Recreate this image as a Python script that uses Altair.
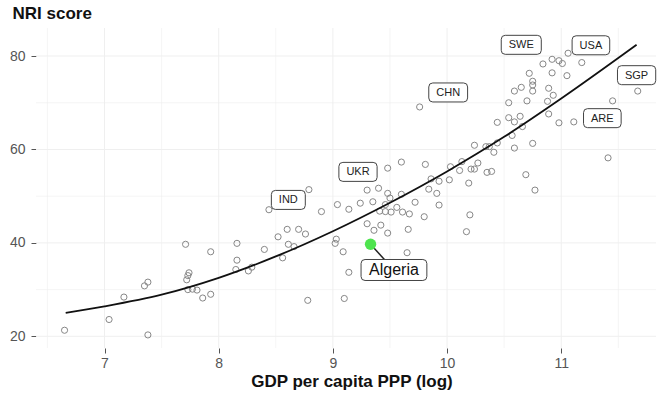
import altair as alt
import pandas as pd

# Log GDP per capita (PPP) and NRI score for each country
gdp_log = [
    6.65, 7.04, 7.17, 7.35, 7.38, 7.38, 7.71, 7.74, 7.73, 7.72,
    7.73, 7.77, 7.81, 7.86, 7.93, 7.93, 8.16, 8.16, 8.15, 8.26,
    8.29, 8.40, 8.52, 8.60, 8.70, 8.76, 8.61, 8.66, 8.56, 8.78,
    8.44, 8.90, 8.79, 9.04, 9.14, 9.24, 9.35, 9.30, 9.40, 9.48,
    9.60, 9.81, 9.48, 9.50, 9.46, 9.41, 9.46, 9.51, 9.56, 9.61,
    9.60, 9.67, 9.72, 9.80, 9.30, 9.36, 9.42, 9.48, 9.66, 9.03,
    9.02, 9.09, 9.65, 9.14, 9.10, 9.91, 9.93, 10.20, 10.17, 9.86,
    9.84, 9.93, 10.02, 10.03, 10.13, 10.11, 10.21, 10.24, 10.19, 10.27,
    9.76, 10.24, 10.34, 10.37, 10.35, 10.39, 10.41, 10.44, 10.44, 10.54,
    10.64, 10.59, 10.54, 10.70, 10.88, 10.66, 10.59, 10.75, 10.57, 10.69,
    10.77, 10.89, 10.98, 11.11, 11.45, 11.67, 11.41, 11.06, 10.84, 10.92,
    10.98, 11.01, 11.18, 10.72, 10.92, 11.05, 10.75, 10.75, 10.75, 10.59,
    10.65, 10.89, 10.93,
]
nri_score = [
    21.3, 23.6, 28.4, 30.8, 31.6, 20.3, 39.7, 33.6, 33.0, 32.1,
    30.0, 30.1, 29.9, 28.2, 29.0, 38.1, 39.9, 36.3, 34.3, 34.0,
    34.8, 38.6, 41.3, 42.9, 42.9, 41.9, 39.7, 39.2, 36.8, 27.7,
    47.1, 46.7, 51.4, 48.2, 47.2, 48.5, 48.8, 51.3, 51.7, 56.0,
    57.3, 56.8, 50.6, 49.6, 48.2, 46.8, 46.7, 46.6, 47.6, 46.6,
    50.4, 46.2, 48.7, 45.6, 44.1, 42.7, 43.8, 42.1, 42.9, 40.8,
    39.9, 38.1, 37.9, 33.7, 28.1, 50.6, 48.1, 46.0, 42.4, 53.7,
    51.5, 53.2, 53.5, 56.3, 57.4, 55.5, 55.8, 55.8, 52.8, 57.1,
    69.1, 60.9, 60.6, 60.6, 55.1, 55.3, 59.4, 61.4, 65.8, 66.8,
    67.1, 65.9, 70.0, 70.4, 70.3, 64.9, 60.3, 61.3, 63.0, 54.6,
    51.3, 67.6, 65.7, 65.9, 70.4, 72.5, 58.2, 80.6, 78.3, 79.3,
    79.0, 78.4, 78.6, 76.3, 76.4, 75.8, 74.6, 73.8, 72.5, 72.5,
    73.3, 73.1, 71.6,
]

# Smoothed trend of NRI score against log GDP
curve_x = [6.66, 7.0, 7.5, 8.0, 8.5, 9.0, 9.5, 10.0, 10.5, 11.0, 11.66]
curve_y = [25.0, 26.4, 28.9, 32.5, 37.1, 42.5, 48.6, 55.3, 62.7, 70.9, 82.4]

# Country code labels
code_text = ["IND", "UKR", "CHN", "SWE", "USA", "SGP", "ARE"]
code_x = [8.61, 9.22, 10.01, 10.65, 11.26, 11.66, 11.36]
code_y = [49.2, 55.2, 72.2, 82.4, 82.3, 75.9, 66.7]

# Highlighted country
focus_name = "Algeria"
focus_x = 9.33
focus_y = 39.7
focus_label_x = 9.535
focus_label_y = 34.2

# Axis ticks and grid
x_major = [7, 8, 9, 10, 11]
x_minor = [6.5, 7.5, 8.5, 9.5, 10.5, 11.5]
y_major = [20, 40, 60, 80]
y_minor = [30, 50, 70]

X_DOMAIN = [6.4, 11.83]
Y_DOMAIN = [17.5, 86]
FONT = "Liberation Sans"

# Approximate Arial advance widths (em) for box sizing
GLYPH_W = {"A": .667, "C": .722, "D": .722, "E": .667, "G": .778, "H": .722,
           "I": .278, "K": .667, "N": .722, "P": .667, "R": .722, "S": .667,
           "U": .722, "W": .944, "a": .556, "e": .556, "g": .556, "i": .222,
           "l": .222, "r": .333}


def box_path(text, font_size, pad_x, height, radius=4.0):
    """Rounded rectangle as a custom symbol path (10 px per unit at size 400)."""
    w = sum(GLYPH_W.get(c, .6) for c in text) * font_size + 2 * pad_x
    a, b, r = w / 20, height / 20, radius / 10
    return (f"M{-a + r},{-b} H{a - r} Q{a},{-b} {a},{-b + r} V{b - r} "
            f"Q{a},{b} {a - r},{b} H{-a + r} Q{-a},{b} {-a},{b - r} "
            f"V{-b + r} Q{-a},{-b} {-a + r},{-b} Z")


points = pd.DataFrame({"x": gdp_log, "y": nri_score})
curve = pd.DataFrame({"x": curve_x, "y": curve_y})
codes = pd.DataFrame({
    "x": code_x, "y": code_y, "label": code_text,
    "path": [box_path(t, 11, 7.5, 19) for t in code_text],
})
focus = pd.DataFrame({
    "x": [focus_x], "y": [focus_y], "x2": [focus_label_x], "y2": [focus_label_y],
})
focus_label = pd.DataFrame({
    "x": [focus_label_x], "y": [focus_label_y], "label": [focus_name],
    "path": [box_path(focus_name, 16, 8, 21)],
})

xs = alt.Scale(domain=X_DOMAIN, nice=False, zero=False)
ys = alt.Scale(domain=Y_DOMAIN, nice=False, zero=False)
GRID = "#efefef"

x_axis = alt.Axis(
    values=x_major, format="d", grid=False, domain=False,
    tickSize=5, tickColor="#555", tickWidth=1,
    labelFont=FONT, labelFontSize=14, labelColor="#555", labelPadding=3,
    title="GDP per capita PPP (log)", titleFont=FONT, titleFontSize=17,
    titleFontWeight="bold", titleColor="#111",
    titleX=315.5, titleY=38.5, titleAlign="center", titleBaseline="alphabetic",
)
y_axis = alt.Axis(
    values=y_major, grid=False, domain=False,
    tickSize=5, tickColor="#555", tickWidth=1,
    labelFont=FONT, labelFontSize=14, labelColor="#555", labelPadding=6,
    title="NRI score", titleFont=FONT, titleFontSize=17,
    titleFontWeight="bold", titleColor="#111", titleAngle=0,
    titleX=-24, titleY=-10, titleAlign="left", titleBaseline="alphabetic",
)


def X(field="x"):
    return alt.X(f"{field}:Q", scale=xs, axis=x_axis)


def Y(field="y"):
    return alt.Y(f"{field}:Q", scale=ys, axis=y_axis)


grid_xmaj = alt.Chart(pd.DataFrame({"x": x_major})).mark_rule(
    color=GRID, strokeWidth=1).encode(x=X())
grid_xmin = alt.Chart(pd.DataFrame({"x": x_minor})).mark_rule(
    color=GRID, strokeWidth=0.6).encode(x=X())
grid_ymaj = alt.Chart(pd.DataFrame({"y": y_major})).mark_rule(
    color=GRID, strokeWidth=1).encode(y=Y())
grid_ymin = alt.Chart(pd.DataFrame({"y": y_minor})).mark_rule(
    color=GRID, strokeWidth=0.6).encode(y=Y())

dots = alt.Chart(points).mark_point(
    shape="circle", filled=False, stroke="#878787", strokeWidth=1,
    size=38, opacity=1,
).encode(x=X(), y=Y())

trend = alt.Chart(curve).mark_line(
    color="#111", strokeWidth=1.8, interpolate="monotone",
).encode(x=X(), y=Y())

code_boxes = alt.Chart(codes).mark_point(
    filled=True, fill="white", stroke="#444", strokeWidth=1,
    size=400, opacity=1, fillOpacity=1,
).encode(
    x=X(), y=Y(),
    shape=alt.Shape("path:N", scale=None, legend=None),
)
code_text_layer = alt.Chart(codes).mark_text(
    font=FONT, fontSize=11, color="#222", baseline="middle", align="center", dy=0.5,
).encode(x=X(), y=Y(), text="label:N")

connector = alt.Chart(focus).mark_rule(color="#222", strokeWidth=1.5).encode(
    x=X(), y=Y(), x2="x2:Q", y2="y2:Q",
)
focus_dot = alt.Chart(focus).mark_circle(color="#4ee44e", size=130, opacity=1).encode(
    x=X(), y=Y(),
)
focus_box = alt.Chart(focus_label).mark_point(
    filled=True, fill="white", stroke="#444", strokeWidth=1,
    size=400, opacity=1, fillOpacity=1,
).encode(
    x=X(), y=Y(),
    shape=alt.Shape("path:N", scale=None, legend=None),
)
focus_text = alt.Chart(focus_label).mark_text(
    font=FONT, fontSize=16, color="#111", baseline="middle", align="center", dy=0.5,
).encode(x=X(), y=Y(), text="label:N")

chart = alt.layer(
    grid_xmin, grid_xmaj, grid_ymin, grid_ymaj, dots, trend,
    code_boxes, code_text_layer, connector, focus_dot, focus_box, focus_text,
).properties(
    width=620, height=320,
    autosize=alt.AutoSizeParams(type="none"),
    padding={"left": 36, "top": 28, "right": 1, "bottom": 46},
    background="white",
).configure_view(stroke=None)

chart.save("out.html", embed_options={"renderer": "svg", "actions": False})
